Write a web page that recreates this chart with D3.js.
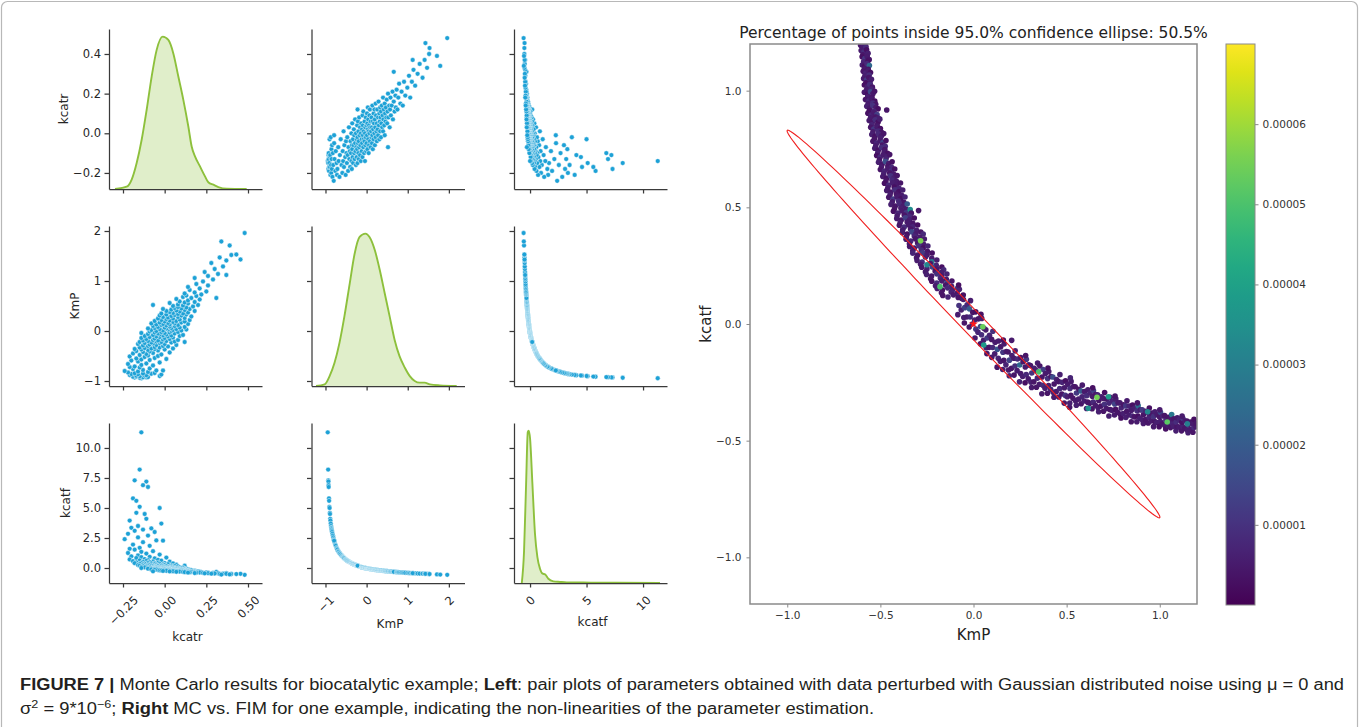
<!DOCTYPE html>
<html>
<head>
<meta charset="utf-8">
<script src="https://cdn.jsdelivr.net/npm/d3@7"></script>
<style>
  body { margin: 0; background: #fff; }
  svg { display: block; font-family: "DejaVu Sans", sans-serif; }
</style>
</head>
<body>
<svg id="fig" width="1360" height="727"></svg>
<script>
// ---------------- data ----------------
var varNames = ["kcatr", "KmP", "kcatf"];

// Monte Carlo samples: [kcatr, KmP, kcatf]
var samples = [
  [-0.14,-0.945,11.3],[-0.15,-0.935,8.2],[-0.18,-0.93,7.3],[-0.11,-0.928,7.2],[-0.13,-0.925,6.9],[-0.10,-0.922,6.75],
  [-0.19,-0.915,5.8],[-0.17,-0.912,5.6],[-0.15,-0.905,5.1],[-0.03,-0.90,5.0],[-0.17,-0.893,4.6],[-0.12,-0.89,4.5],
  [-0.11,-0.885,4.1],[-0.21,-0.88,3.95],[-0.02,-0.872,3.7],[-0.16,-0.865,3.5],[-0.20,-0.86,3.35],[-0.08,-0.855,3.3],
  [-0.13,-0.85,3.2],[-0.18,-0.845,3.1],[-0.06,-0.84,3.0],
  [-0.22,-0.83,2.85],[-0.10,-0.82,2.7],[-0.16,-0.81,2.55],[-0.24,-0.80,2.4],[-0.05,-0.79,2.3],[-0.13,-0.78,2.15],
  [-0.19,-0.76,1.95],[-0.09,-0.75,1.85],[-0.15,-0.73,1.68],[-0.21,-0.72,1.6],[-0.01,-0.79,2.28],
  [-0.18,-0.71,1.53],[-0.07,-0.69,1.4],[-0.14,-0.68,1.35],[-0.22,-0.66,1.25],[-0.11,-0.65,1.2],[-0.03,-0.63,1.12],[-0.16,-0.61,1.04],
  [-0.20,-0.59,0.97],[-0.09,-0.58,0.93],[-0.14,-0.57,0.9],[0.01,-0.56,0.87],[-0.17,-0.55,0.83],[-0.06,-0.54,0.8],
  [-0.12,-0.52,0.74],[-0.21,-0.51,0.71],[-0.04,-0.50,0.68],[-0.10,-0.49,0.66],
  [-0.15,-0.48,0.63],[-0.02,-0.47,0.61],[-0.11,-0.46,0.59],[-0.19,-0.45,0.57],[-0.07,-0.44,0.55],[0.03,-0.43,0.53],
  [-0.13,-0.42,0.51],[-0.09,-0.41,0.49],[-0.17,-0.40,0.47],[-0.04,-0.39,0.45],[-0.10,-0.38,0.43],[0.00,-0.37,0.41],
  [-0.14,-0.37,0.41],[-0.06,-0.36,0.40],
  [-0.18,-0.36,0.40],[-0.08,-0.35,0.38],[0.05,-0.35,0.38],[-0.12,-0.34,0.36],[-0.03,-0.33,0.35],[-0.15,-0.33,0.35],
  [-0.06,-0.32,0.33],[0.02,-0.31,0.32],[-0.10,-0.30,0.30],[-0.01,-0.30,0.30],[-0.13,-0.29,0.29],[-0.05,-0.28,0.27],
  [0.07,-0.28,0.27],[-0.09,-0.27,0.26],[-0.16,-0.26,0.24],[0.00,-0.26,0.24],[-0.07,-0.25,0.23],[-0.03,-0.24,0.21],
  [-0.12,-0.24,0.21],[0.04,-0.23,0.20],[-0.08,-0.23,0.20],[-0.02,-0.22,0.19],[-0.15,-0.22,0.19],[0.06,-0.21,0.17],
  [-0.05,-0.21,0.17],[-0.10,-0.20,0.16],[0.01,-0.20,0.16],[-0.13,-0.19,0.15],[-0.04,-0.19,0.15],[0.08,-0.18,0.14],
  [-0.07,-0.18,0.14],[-0.01,-0.17,0.13],[-0.11,-0.16,0.11],[0.03,-0.16,0.11],[-0.06,-0.15,0.10],[0.00,-0.14,0.09],
  [-0.14,-0.14,0.09],[0.05,-0.13,0.08],[-0.03,-0.12,0.07],[0.12,-0.22,0.19],
  [-0.09,-0.12,0.07],[0.02,-0.11,0.06],[-0.05,-0.11,0.06],[0.09,-0.10,0.05],[-0.12,-0.10,0.05],[-0.01,-0.09,0.04],
  [0.04,-0.09,0.04],[-0.07,-0.08,0.03],[0.11,-0.08,0.03],[-0.03,-0.07,0.02],[0.01,-0.07,0.02],[-0.10,-0.06,0.02],
  [0.06,-0.05,0.01],[-0.04,-0.05,0.01],[0.00,-0.04,0.0],[-0.14,-0.04,0.0],[0.03,-0.03,-0.01],[-0.06,-0.03,-0.01],
  [0.08,-0.02,-0.02],[-0.02,-0.02,-0.02],[-0.09,-0.01,-0.02],[0.04,0.0,-0.03],
  [-0.05,0.00,-0.03],[0.10,0.01,-0.036],[-0.01,0.01,-0.036],[0.05,0.02,-0.042],[-0.08,0.02,-0.042],[0.02,0.03,-0.048],
  [0.13,0.03,-0.048],[-0.03,0.04,-0.054],[0.07,0.04,-0.054],[-0.10,0.05,-0.06],[0.01,0.05,-0.06],[0.04,0.06,-0.066],
  [-0.06,0.06,-0.066],[0.09,0.07,-0.072],[0.00,0.07,-0.072],[-0.04,0.08,-0.078],[0.12,0.08,-0.078],[0.03,0.09,-0.084],
  [-0.07,0.10,-0.09],[0.06,0.10,-0.09],[0.01,0.11,-0.096],[-0.02,0.12,-0.10],
  [0.08,0.12,-0.10],[-0.05,0.13,-0.108],[0.03,0.13,-0.108],[0.14,0.14,-0.114],[-0.01,0.14,-0.114],[0.06,0.15,-0.12],
  [-0.08,0.15,-0.12],[0.02,0.16,-0.125],[0.10,0.17,-0.13],[-0.03,0.17,-0.13],[0.05,0.18,-0.135],[0.00,0.19,-0.14],
  [0.12,0.19,-0.14],[-0.06,0.20,-0.145],[0.07,0.20,-0.145],[0.03,0.21,-0.15],[-0.02,0.22,-0.154],[0.15,0.22,-0.154],
  [0.09,0.23,-0.16],[0.01,0.24,-0.162],
  [0.05,0.25,-0.167],[-0.04,0.25,-0.167],[0.12,0.26,-0.172],[0.02,0.27,-0.176],[0.08,0.28,-0.18],[-0.01,0.28,-0.18],
  [0.16,0.29,-0.185],[0.04,0.30,-0.19],[0.10,0.31,-0.194],[-0.03,0.31,-0.194],[0.06,0.32,-0.198],[0.13,0.33,-0.202],
  [0.01,0.33,-0.202],[0.08,0.34,-0.206],[-0.02,0.35,-0.21],[0.11,0.35,-0.21],[0.05,0.36,-0.214],
  [0.14,0.37,-0.218],[0.03,0.38,-0.222],[0.09,0.39,-0.226],[0.18,0.40,-0.23],[0.01,0.40,-0.23],[0.07,0.41,-0.234],
  [0.12,0.42,-0.238],[0.04,0.43,-0.242],[0.15,0.44,-0.246],[-0.01,0.44,-0.246],[0.10,0.45,-0.25],[0.06,0.46,-0.254],
  [0.13,0.47,-0.258],[0.08,0.48,-0.262],[-0.07,0.52,-0.276],
  [0.17,0.49,-0.266],[0.05,0.50,-0.27],[0.11,0.51,-0.273],[0.20,0.52,-0.276],[0.08,0.53,-0.28],[0.14,0.55,-0.285],
  [0.03,0.56,-0.288],[0.12,0.57,-0.29],[0.18,0.58,-0.294],[0.09,0.59,-0.297],
  [0.14,0.61,-0.303],[0.21,0.63,-0.31],[0.07,0.64,-0.312],[0.16,0.66,-0.318],[0.11,0.68,-0.324],[0.19,0.70,-0.33],
  [0.13,0.71,-0.333],[0.31,0.66,-0.318],
  [0.22,0.73,-0.339],[0.12,0.75,-0.345],[0.18,0.77,-0.351],[0.25,0.79,-0.357],[0.15,0.82,-0.366],
  [0.21,0.85,-0.375],[0.14,0.88,-0.384],[0.26,0.91,-0.392],[0.19,0.94,-0.398],
  [0.23,0.99,-0.408],[0.29,1.03,-0.416],[0.18,1.06,-0.422],
  [0.26,1.10,-0.43],[0.32,1.14,-0.438],[0.24,1.18,-0.446],[0.37,1.12,-0.434],
  [0.30,1.24,-0.458],[0.35,1.29,-0.468],[0.28,1.36,-0.476],[0.37,1.41,-0.481],
  [0.33,1.47,-0.494],[0.40,1.52,-0.502],
  [0.48,1.96,-0.57],[0.455,1.43,-0.485],[0.43,1.53,-0.503],[0.39,1.71,-0.533],[0.34,1.79,-0.55]
];

// kernel density curves on the diagonal (relative height)
var kcatrDensX = [-0.298,-0.224,-0.198,-0.168,-0.138,-0.108,-0.078,-0.048,-0.012,0.022,0.052,0.082,0.112,0.142,0.162,0.182,0.212,0.242,0.262,0.292,0.322,0.372,0.492];
var kcatrDensY = [0,0.017,0.061,0.17,0.323,0.52,0.738,0.913,1.0,0.978,0.89,0.738,0.585,0.41,0.279,0.214,0.148,0.083,0.044,0.028,0.013,0.002,0];
var kmpDensX = [-1.23,-1.02,-0.90,-0.78,-0.66,-0.54,-0.41,-0.29,-0.17,-0.03,0.07,0.20,0.32,0.44,0.56,0.68,0.80,0.93,1.05,1.17,1.29,1.41,1.54,1.78,2.19];
var kmpDensY = [0,0.011,0.065,0.152,0.283,0.457,0.674,0.87,0.978,1.0,0.978,0.891,0.761,0.609,0.457,0.304,0.196,0.12,0.065,0.033,0.022,0.022,0.011,0.004,0];
var kcatfDensX = [-0.73,-0.53,-0.35,-0.2,-0.12,0.0,0.21,0.44,0.65,0.88,1.12,1.33,1.62,2.06,2.65,3.24,4.7,7.6,11.5];
var kcatfDensY = [0,0.21,0.65,0.99,1.0,0.95,0.65,0.32,0.17,0.094,0.061,0.057,0.028,0.011,0.007,0.004,0.003,0.002,0];

var pairXDomains = [[-0.334, 0.584], [-1.34, 2.38], [-1.42, 12.12]];
var pairYDomains = [[-0.281, 0.526], [-1.1, 2.1], [-1.25, 12.08]];
var pairXTicks = [[-0.25, 0, 0.25, 0.5], [-1, 0, 1, 2], [0, 5, 10]];
var pairYTicks = [[-0.2, 0, 0.2, 0.4], [-1, 0, 1, 2], [0, 2.5, 5, 7.5, 10]];
var pairXFormat = [".2f", "d", "d"];
var pairYFormat = [".1f", "d", ".1f"];

// MC vs FIM panel: [KmP, kcatf, density (x1e-5)]
var band = [
  [-0.606,1.195,0.4],[-0.592,1.20,0.7],[-0.578,1.19,0.3],[-0.596,1.183,0.5],[-0.579,1.186,0.8],
  [-0.603,1.172,0.5],[-0.589,1.165,0.9],[-0.574,1.175,0.3],[-0.566,1.16,0.6],[-0.594,1.154,0.4],[-0.572,1.152,0.6],
  [-0.598,1.145,0.3],[-0.583,1.138,1.1],[-0.571,1.146,0.5],[-0.560,1.133,0.4],[-0.590,1.124,0.7],[-0.567,1.127,0.3],
  [-0.597,1.11,0.6],[-0.585,1.104,0.3],[-0.572,1.115,0.8],[-0.559,1.108,2.4],[-0.586,1.094,0.5],[-0.565,1.092,0.4],
  [-0.592,1.083,0.4],[-0.578,1.075,0.7],[-0.565,1.086,0.5],[-0.553,1.078,0.3],[-0.583,1.064,0.6],[-0.560,1.067,0.9],
  [-0.590,1.052,0.5],[-0.574,1.046,1.2],[-0.562,1.056,0.4],[-0.548,1.049,0.6],[-0.578,1.034,0.3],[-0.555,1.032,0.5],
  [-0.586,1.024,0.3],[-0.570,1.017,0.6],[-0.557,1.026,0.9],[-0.543,1.015,0.4],[-0.574,1.004,0.5],[-0.550,1.007,0.7],
  [-0.586,0.993,0.5],[-0.569,0.986,0.3],[-0.553,0.995,1.6],[-0.540,0.987,0.5],[-0.531,0.997,0.4],[-0.568,0.974,0.6],[-0.545,0.972,0.4],
  [-0.580,0.962,0.4],[-0.562,0.957,0.8],[-0.548,0.965,0.5],[-0.530,0.955,0.3],[-0.566,0.944,0.5],[-0.540,0.947,0.9],[-0.525,0.942,0.4],
  [-0.573,0.933,0.6],[-0.556,0.926,0.4],[-0.541,0.936,1.0],[-0.524,0.928,0.5],[-0.512,0.922,0.3],[-0.466,0.917,0.4],[-0.560,0.914,0.3],[-0.534,0.912,0.7],
  [-0.567,0.903,0.3],[-0.550,0.896,0.7],[-0.535,0.905,0.5],[-0.518,0.898,1.3],[-0.553,0.884,0.5],[-0.526,0.887,0.4],[-0.512,0.883,0.6],
  [-0.560,0.872,0.5],[-0.543,0.866,0.4],[-0.527,0.875,0.9],[-0.512,0.866,0.3],[-0.503,0.878,0.6],[-0.546,0.854,0.7],[-0.518,0.852,0.4],
  [-0.552,0.843,0.4],[-0.535,0.836,1.1],[-0.518,0.845,0.5],[-0.500,0.838,0.3],[-0.540,0.824,0.5],[-0.510,0.827,0.8],[-0.494,0.822,0.4],
  [-0.546,0.812,0.6],[-0.528,0.806,0.3],[-0.511,0.815,0.8],[-0.494,0.807,0.5],[-0.482,0.816,0.4],[-0.532,0.794,0.4],[-0.500,0.797,0.6],
  [-0.540,0.783,0.4],[-0.520,0.776,0.7],[-0.502,0.785,0.5],[-0.486,0.778,1.4],[-0.470,0.786,0.3],[-0.525,0.764,0.5],[-0.490,0.767,0.4],[-0.474,0.762,0.8],
  [-0.530,0.753,0.5],[-0.511,0.746,0.3],[-0.494,0.756,0.9],[-0.476,0.748,0.4],[-0.514,0.734,0.6],[-0.480,0.737,0.5],[-0.462,0.732,0.3],
  [-0.520,0.722,0.3],[-0.501,0.716,0.8],[-0.484,0.725,0.5],[-0.466,0.718,0.6],[-0.450,0.726,0.4],[-0.505,0.704,0.4],[-0.470,0.707,0.7],
  [-0.510,0.693,0.6],[-0.490,0.686,0.4],[-0.473,0.696,1.7],[-0.455,0.688,0.5],[-0.437,0.695,0.3],[-0.494,0.674,0.5],[-0.460,0.677,0.4],[-0.440,0.672,0.8],
  [-0.500,0.662,0.4],[-0.479,0.656,0.7],[-0.460,0.665,0.5],[-0.441,0.657,0.9],[-0.423,0.664,0.3],[-0.482,0.644,0.6],[-0.450,0.647,0.4],[-0.428,0.642,0.5],
  [-0.487,0.632,0.5],[-0.466,0.626,0.3],[-0.446,0.635,1.0],[-0.426,0.627,0.6],[-0.410,0.636,0.4],[-0.470,0.614,0.4],[-0.438,0.617,0.8],[-0.414,0.612,0.5],
  [-0.478,0.603,0.3],[-0.455,0.596,0.8],[-0.434,0.605,0.6],[-0.413,0.597,0.5],[-0.392,0.604,0.4],[-0.460,0.584,0.5],[-0.426,0.587,0.3],[-0.400,0.582,0.7],
  [-0.466,0.572,0.5],[-0.444,0.566,0.4],[-0.422,0.575,0.9],[-0.401,0.567,0.3],[-0.380,0.574,0.6],[-0.448,0.554,0.6],[-0.414,0.557,0.4],[-0.386,0.552,0.5],
  [-0.455,0.543,0.4],[-0.432,0.536,1.2],[-0.411,0.545,0.5],[-0.390,0.537,0.3],[-0.368,0.544,0.7],[-0.436,0.524,0.5],[-0.402,0.527,0.8],[-0.374,0.522,0.4],
  [-0.443,0.512,0.6],[-0.420,0.506,0.4],[-0.398,0.515,0.8],[-0.376,0.507,0.5],[-0.356,0.514,1.9],[-0.295,0.486,0.4],[-0.424,0.494,0.4],[-0.390,0.497,0.6],[-0.362,0.492,0.5],
  [-0.430,0.483,0.3],[-0.405,0.476,0.7],[-0.383,0.485,0.5],[-0.360,0.478,1.1],[-0.340,0.490,3.4],[-0.334,0.475,0.4],[-0.410,0.464,0.5],[-0.372,0.467,0.4],[-0.344,0.462,0.8],
  [-0.412,0.452,0.5],[-0.388,0.446,0.4],[-0.366,0.455,1.3],[-0.343,0.447,0.6],[-0.318,0.454,0.3],[-0.394,0.434,0.6],[-0.356,0.437,0.5],[-0.326,0.432,0.4],
  [-0.398,0.423,0.4],[-0.372,0.416,0.9],[-0.349,0.425,0.5],[-0.326,0.417,0.7],[-0.300,0.424,0.3],[-0.380,0.404,0.5],[-0.338,0.407,0.4],[-0.306,0.402,0.6],
  [-0.382,0.392,0.6],[-0.356,0.386,0.3],[-0.332,0.395,1.5],[-0.309,0.387,0.5],[-0.283,0.394,0.4],[-0.270,0.386,0.8],[-0.360,0.374,0.4],[-0.318,0.377,0.7],[-0.288,0.372,0.5],
  [-0.362,0.363,0.5],[-0.337,0.356,0.8],[-0.312,0.365,0.4],[-0.289,0.357,2.2],[-0.264,0.364,0.5],[-0.344,0.344,0.6],[-0.300,0.347,0.4],[-0.268,0.342,0.5],
  [-0.343,0.332,0.4],[-0.318,0.326,0.6],[-0.293,0.335,1.0],[-0.270,0.327,0.3],[-0.245,0.334,0.7],[-0.326,0.314,0.5],[-0.280,0.317,0.8],[-0.248,0.312,0.4],
  [-0.326,0.303,0.7],[-0.300,0.296,0.4],[-0.273,0.305,1.2],[-0.249,0.297,0.5],[-0.222,0.304,0.3],[-0.306,0.284,0.4],[-0.258,0.287,0.6],[-0.224,0.282,0.5],
  [-0.303,0.272,0.5],[-0.276,0.266,0.9],[-0.224,0.267,2.8],[-0.197,0.274,0.6],[-0.284,0.256,0.5],[-0.232,0.259,0.4],[-0.200,0.252,0.7],
  [-0.278,0.243,0.4],[-0.250,0.236,0.6],[-0.222,0.245,1.4],[-0.196,0.237,0.5],[-0.170,0.244,0.3],[-0.160,0.232,0.8],[-0.258,0.224,0.5],[-0.206,0.227,0.4],[-0.172,0.222,0.6],
  [-0.252,0.212,0.6],[-0.225,0.206,0.4],[-0.197,0.215,1.0],[-0.170,0.207,0.5],[-0.143,0.214,0.7],[-0.230,0.194,0.4],[-0.178,0.197,0.8],[-0.146,0.192,0.5],
  [-0.224,0.183,0.3],[-0.197,0.176,0.9],[-0.170,0.185,0.5],[-0.142,0.177,1.6],[-0.116,0.184,0.4],[-0.204,0.164,0.5],[-0.150,0.167,0.4],[-0.118,0.162,0.6],
  [-0.195,0.152,0.5],[-0.167,0.146,0.3],[-0.139,0.155,0.8],[-0.112,0.147,0.6],[-0.085,0.154,1.1],[-0.172,0.134,0.4],[-0.120,0.137,0.7],[-0.088,0.132,0.5],
  [-0.165,0.122,0.4],[-0.137,0.116,0.7],[-0.108,0.125,0.5],[-0.081,0.117,1.2],[-0.055,0.124,0.3],
  [-0.084,0.040,0.5],[-0.078,0.079,1.0],[-0.082,0.114,0.4],[-0.076,0.149,0.7],[-0.080,0.167,0.3],[-0.066,0.060,0.6],[-0.064,0.110,0.4],
  [-0.052,0.028,0.6],[-0.047,0.070,1.3],[-0.054,0.105,0.5],[-0.049,0.004,0.4],[-0.036,0.030,0.5],[-0.034,0.082,0.8],
  [-0.023,-0.013,0.4],[-0.018,0.030,0.8],[-0.022,0.065,2.0],[-0.016,0.100,0.5],[-0.006,0.000,0.6],[-0.004,0.050,0.4],
  [0.008,-0.060,0.5],[0.013,-0.022,1.1],[0.006,0.017,0.6],[0.012,0.052,0.3],[0.024,-0.035,0.7],[0.026,0.022,0.4],
  [0.037,-0.085,0.4],[0.043,-0.046,0.9],[0.038,-0.011,1.5],[0.044,0.024,0.5],[0.040,0.042,0.3],[0.054,-0.070,0.5],[0.056,-0.018,0.6],
  [0.068,-0.102,0.6],[0.073,-0.060,1.2],[0.066,-0.025,0.5],[0.072,-0.127,0.4],[0.084,-0.100,0.4],[0.086,-0.048,0.7],
  [0.098,-0.143,0.5],[0.103,-0.101,0.8],[0.097,-0.066,0.4],[0.104,-0.031,1.0],[0.114,-0.128,0.6],[0.116,-0.078,0.5],
  [0.127,-0.185,0.4],[0.133,-0.147,0.7],[0.128,-0.108,1.8],[0.134,-0.073,0.5],[0.144,-0.160,0.5],[0.146,-0.098,0.4],
  [0.157,-0.195,0.6],[0.163,-0.156,0.4],[0.158,-0.121,1.1],[0.164,-0.086,0.5],[0.160,-0.069,0.3],[0.174,-0.175,0.7],[0.176,-0.118,0.5],
  [0.188,-0.197,0.5],[0.193,-0.155,1.4],[0.186,-0.120,0.4],[0.192,-0.222,0.7],[0.204,-0.190,0.4],[0.205,-0.070,0.5],[0.206,-0.135,0.6],
  [0.218,-0.219,0.4],[0.223,-0.180,0.9],[0.217,-0.147,0.5],[0.224,-0.115,0.6],[0.234,-0.200,0.5],[0.236,-0.150,0.8],
  [0.247,-0.248,0.7],[0.253,-0.212,0.5],[0.248,-0.176,2.3],[0.254,-0.144,0.4],[0.264,-0.225,0.6],[0.266,-0.162,0.4],
  [0.277,-0.252,0.3],[0.283,-0.217,0.8],[0.278,-0.184,0.5],[0.284,-0.151,1.2],[0.280,-0.135,0.4],[0.294,-0.235,0.5],[0.296,-0.175,0.7],
  [0.308,-0.249,0.6],[0.313,-0.210,1.0],[0.306,-0.178,0.4],[0.312,-0.272,0.5],[0.324,-0.248,0.4],[0.326,-0.190,0.6],
  [0.338,-0.271,0.4],[0.343,-0.232,0.7],[0.337,-0.199,0.6],[0.344,-0.167,0.5],[0.354,-0.258,0.5],[0.356,-0.180,0.4],
  [0.367,-0.299,0.5],[0.373,-0.263,0.9],[0.368,-0.227,0.4],[0.374,-0.195,1.3],[0.384,-0.275,0.6],[0.386,-0.212,0.5],
  [0.397,-0.297,0.4],[0.403,-0.264,0.6],[0.398,-0.234,1.0],[0.404,-0.204,0.5],[0.400,-0.189,0.3],[0.414,-0.280,0.7],[0.416,-0.225,0.4],
  [0.428,-0.293,0.7],[0.433,-0.257,0.4],[0.426,-0.227,1.6],[0.432,-0.314,0.5],[0.444,-0.290,0.5],[0.446,-0.238,0.6],
  [0.458,-0.313,0.5],[0.463,-0.277,0.8],[0.457,-0.247,0.4],[0.464,-0.217,0.6],[0.474,-0.300,0.4],[0.476,-0.250,0.7],
  [0.487,-0.339,0.4],[0.493,-0.306,1.1],[0.488,-0.273,0.5],[0.494,-0.243,0.3],[0.516,-0.357,0.4],[0.504,-0.312,0.6],[0.506,-0.258,0.5],
  [0.517,-0.339,0.6],[0.523,-0.306,0.4],[0.518,-0.276,0.9],[0.524,-0.246,0.5],[0.520,-0.231,0.7],[0.534,-0.318,0.4],[0.536,-0.268,0.6],
  [0.548,-0.329,0.5],[0.553,-0.296,1.2],[0.546,-0.269,0.4],[0.552,-0.348,0.6],[0.564,-0.322,0.5],[0.566,-0.280,0.4],
  [0.578,-0.342,0.4],[0.583,-0.312,0.7],[0.577,-0.287,2.1],[0.584,-0.262,0.5],[0.594,-0.330,0.6],[0.596,-0.290,0.5],
  [0.607,-0.362,0.6],[0.613,-0.335,0.4],[0.608,-0.307,0.9],[0.614,-0.282,0.5],[0.624,-0.340,0.4],[0.626,-0.296,0.7],
  [0.637,-0.363,0.4],[0.643,-0.335,0.8],[0.638,-0.310,0.5],[0.644,-0.285,1.3],[0.640,-0.273,0.3],[0.654,-0.348,0.5],[0.656,-0.302,0.4],
  [0.668,-0.358,0.5],[0.673,-0.328,0.4],[0.666,-0.303,0.7],[0.672,-0.376,0.6],[0.684,-0.352,0.4],[0.686,-0.312,0.6],
  [0.698,-0.374,0.4],[0.703,-0.344,1.0],[0.697,-0.319,0.5],[0.704,-0.294,0.3],[0.714,-0.362,0.5],[0.716,-0.322,0.4],
  [0.727,-0.394,0.6],[0.733,-0.367,0.4],[0.728,-0.339,0.8],[0.734,-0.314,0.5],[0.744,-0.370,0.5],[0.746,-0.330,0.7],
  [0.757,-0.390,0.5],[0.763,-0.366,0.3],[0.758,-0.343,1.4],[0.764,-0.321,0.6],[0.760,-0.309,0.4],[0.774,-0.378,0.4],[0.776,-0.338,0.5],
  [0.788,-0.387,0.4],[0.793,-0.360,0.7],[0.786,-0.338,0.5],[0.792,-0.403,0.3],[0.804,-0.384,0.6],[0.806,-0.346,0.4],
  [0.818,-0.401,0.6],[0.823,-0.374,0.4],[0.817,-0.351,1.1],[0.824,-0.329,0.5],[0.834,-0.390,0.5],[0.836,-0.352,0.7],
  [0.847,-0.419,0.4],[0.853,-0.394,0.8],[0.848,-0.370,0.5],[0.854,-0.347,0.3],[0.864,-0.398,0.4],[0.866,-0.360,0.6],
  [0.877,-0.419,0.5],[0.883,-0.395,0.3],[0.878,-0.372,0.9],[0.884,-0.350,2.5],[0.880,-0.338,0.4],[0.894,-0.404,0.6],[0.896,-0.368,0.5],
  [0.908,-0.412,0.6],[0.913,-0.388,0.4],[0.906,-0.368,1.2],[0.912,-0.426,0.5],[0.924,-0.410,0.4],[0.926,-0.374,0.7],
  [0.938,-0.424,0.4],[0.943,-0.400,0.7],[0.937,-0.380,0.5],[0.944,-0.360,0.3],[0.954,-0.416,0.5],[0.956,-0.382,0.4],
  [0.967,-0.440,0.5],[0.973,-0.418,0.4],[0.968,-0.396,1.0],[0.974,-0.376,0.6],[0.984,-0.422,0.6],[0.986,-0.388,0.5],
  [0.997,-0.440,0.3],[1.003,-0.418,0.6],[0.998,-0.398,0.4],[1.004,-0.378,1.5],[1.000,-0.368,0.5],[1.014,-0.428,0.4],[1.016,-0.394,0.7],
  [1.028,-0.436,0.5],[1.033,-0.412,0.8],[1.026,-0.392,0.4],[1.032,-0.450,0.3],[1.044,-0.434,0.5],[1.046,-0.400,0.4],
  [1.058,-0.444,0.4],[1.063,-0.423,0.7],[1.057,-0.406,0.5],[1.064,-0.388,2.8],[1.074,-0.438,0.6],[1.076,-0.406,0.4],
  [1.087,-0.458,0.6],[1.093,-0.439,0.4],[1.088,-0.420,0.9],[1.094,-0.402,0.5],[1.104,-0.442,0.5],[1.106,-0.410,0.7],
  [1.117,-0.458,0.4],[1.123,-0.439,0.6],[1.118,-0.421,0.3],[1.124,-0.404,1.1],[1.120,-0.395,0.5],[1.134,-0.448,0.4],[1.136,-0.416,0.5],
  [1.148,-0.454,0.5],[1.153,-0.433,0.7],[1.146,-0.416,0.4],[1.152,-0.466,0.6],[1.164,-0.452,0.5],[1.166,-0.420,0.4],
  [1.178,-0.464,0.4],[1.183,-0.443,0.8],[1.177,-0.426,0.5],[1.184,-0.408,0.3],[1.195,-0.440,0.5],[1.196,-0.425,0.4],
  // lighter (higher density) points, drawn last
  [-0.250,0.254,3.2],[-0.284,0.357,5.6],[-0.180,0.160,5.0],[0.050,-0.012,5.4],[0.055,-0.090,3.8],[0.350,-0.205,5.0],
  [0.616,-0.361,3.6],[0.663,-0.314,5.5],[0.725,-0.312,3.9],[0.935,-0.376,3.3],[1.040,-0.420,5.2],[1.148,-0.428,3.0]
];

var mcDomain = [-1.2, 1.2];
var mcTicks = [-1.0, -0.5, 0.0, 0.5, 1.0];
var ellipseCenter = [0, 0];
var ellipseMajor = [1.0, -0.83];
var ellipseMinor = [0.042, 0.033];
var cbDomain = [0, 7];
var cbTicks = [1, 2, 3, 4, 5, 6];
var cbTickLabels = ["0.00001", "0.00002", "0.00003", "0.00004", "0.00005", "0.00006"];
var mcTitle = "Percentage of points inside 95.0% confidence ellipse: 50.5%";

// ---------------- drawing ----------------
var svg = d3.select("#fig");
svg.append("rect").attr("width", 1360).attr("height", 727).attr("fill", "#fff");

// frame round the figure
svg.append("rect")
  .attr("x", 1.5).attr("y", 1.5).attr("width", 1356).attr("height", 780).attr("rx", 6)
  .attr("fill", "none").attr("stroke", "#b8b8b8").attr("stroke-width", 1.2);

var spine = "#3a3a3a";
var tickText = "#262626";
var pointBlue = "#1da1d6";
var kdeGreen = "#8dc03c";

var pw = 153, ph = 160;
var densities = [[kcatrDensX, kcatrDensY], [kmpDensX, kmpDensY], [kcatfDensX, kcatfDensY]];

function styleAxis(sel, col) {
  sel.select(".domain").attr("stroke", col).attr("stroke-width", 1.25);
  sel.selectAll(".tick line").attr("stroke", col).attr("stroke-width", 1.25);
  sel.selectAll(".tick text").attr("fill", tickText).style("font-family", "DejaVu Sans");
}

for (var i = 0; i < 3; i++) {
  for (var j = 0; j < 3; j++) {
    var x0 = 109 + j * 202.5, y0 = 29 + i * 197;
    var g = svg.append("g").attr("transform", `translate(${x0},${y0})`);
    var xs = d3.scaleLinear().domain(pairXDomains[j]).range([0, pw]);
    var ys = d3.scaleLinear().domain(pairYDomains[i]).range([ph, 0]);

    if (i === j) {
      var dxs = densities[i][0], dys = densities[i][1];
      var pts = dxs.map((v, k) => [v, dys[k]]);
      var ds = d3.scaleLinear().domain([0, 1.05]).range([ph, 0]);
      g.append("path").datum(pts)
        .attr("d", d3.area().x(d => xs(d[0])).y0(ph).y1(d => ds(d[1])).curve(d3.curveMonotoneX))
        .attr("fill", kdeGreen).attr("fill-opacity", 0.27);
      g.append("path").datum(pts)
        .attr("d", d3.line().x(d => xs(d[0])).y(d => ds(d[1])).curve(d3.curveMonotoneX))
        .attr("fill", "none").attr("stroke", kdeGreen).attr("stroke-width", 1.9);
    } else {
      g.selectAll("circle").data(samples).enter().append("circle")
        .attr("cx", d => xs(d[j])).attr("cy", d => ys(d[i]))
        .attr("r", 2.4)
        .attr("fill", pointBlue).attr("stroke", "#fff").attr("stroke-width", 0.45);
    }

    var xa = g.append("g").attr("transform", `translate(0,${ph})`)
      .call(d3.axisBottom(xs).tickValues(pairXTicks[j]).tickSize(4.5).tickSizeOuter(0).tickPadding(3)
        .tickFormat(i === 2 ? d3.format(pairXFormat[j]) : ""))
      .style("font-size", "11.5px");
    styleAxis(xa, spine);

    var ya = g.append("g")
      .call(d3.axisLeft(ys).tickValues(pairYTicks[i]).tickSize(4.5).tickSizeOuter(0).tickPadding(3.5)
        .tickFormat(j === 0 ? d3.format(pairYFormat[i]) : ""))
      .style("font-size", "11.5px");
    styleAxis(ya, spine);

    if (i === 2) {
      // rotated tick labels, centred under the tick
      xa.selectAll(".tick text").each(function() {
        var t = d3.select(this);
        var w = this.getComputedTextLength();
        var hb = (w + 11.5) * 0.7071;
        t.attr("y", 0).attr("dy", "0.35em").attr("text-anchor", "middle")
          .attr("transform", `translate(0,${11 + hb / 2}) rotate(-45)`);
      });
      var bb = xa.node().getBBox();
      svg.append("text")
        .attr("x", x0 + pw / 2 + 2)
        .attr("y", y0 + ph + bb.y + bb.height + 13)
        .attr("text-anchor", "middle").attr("fill", tickText)
        .style("font-size", "12px").text(varNames[j]);
    }
    if (j === 0) {
      var yb = ya.node().getBBox();
      var lx = x0 + yb.x - 5.5;
      svg.append("text")
        .attr("transform", `translate(${lx},${y0 + ph / 2}) rotate(-90)`)
        .attr("text-anchor", "middle").attr("fill", tickText)
        .style("font-size", "12px").text(varNames[i]);
    }
  }
}

// ---------------- MC vs FIM panel ----------------
var mx = d3.scaleLinear().domain(mcDomain).range([750, 1197]);
var my = d3.scaleLinear().domain(mcDomain).range([604, 44]);
var color = d3.scaleSequential(d3.interpolateViridis).domain(cbDomain);

svg.append("clipPath").attr("id", "mcclip").append("rect")
  .attr("x", 750).attr("y", 44).attr("width", 447).attr("height", 560);

var mc = svg.append("g").attr("clip-path", "url(#mcclip)");
mc.selectAll("circle").data(band).enter().append("circle")
  .attr("cx", d => mx(d[0])).attr("cy", d => my(d[1]))
  .attr("r", 2.8)
  .attr("fill", d => color(d[2]));

var ell = d3.range(0, 361, 2).map(function(a) {
  var t = a * Math.PI / 180;
  return [ellipseCenter[0] + ellipseMajor[0] * Math.cos(t) + ellipseMinor[0] * Math.sin(t),
          ellipseCenter[1] + ellipseMajor[1] * Math.cos(t) + ellipseMinor[1] * Math.sin(t)];
});
mc.append("path").datum(ell)
  .attr("d", d3.line().x(d => mx(d[0])).y(d => my(d[1])))
  .attr("fill", "none").attr("stroke", "#f01e1e").attr("stroke-width", 1.1);
mc.append("path")
  .attr("transform", `translate(${mx(ellipseCenter[0])},${my(ellipseCenter[1])})`)
  .attr("d", d3.symbol(d3.symbolStar, 26)())
  .attr("fill", "#ff1a1a");

var frameGray = "#8a8a8a";
svg.append("rect").attr("x", 750).attr("y", 44).attr("width", 447).attr("height", 560)
  .attr("fill", "none").attr("stroke", frameGray).attr("stroke-width", 1.5);

var mxa = svg.append("g").attr("transform", "translate(0,604)")
  .call(d3.axisBottom(mx).tickValues(mcTicks).tickFormat(d3.format(".1f")).tickSize(3.5).tickPadding(4.5))
  .style("font-size", "10.5px");
mxa.select(".domain").remove();
mxa.selectAll(".tick line").attr("stroke", frameGray);
mxa.selectAll(".tick text").attr("fill", "#333").style("font-family", "DejaVu Sans");

var mya = svg.append("g").attr("transform", "translate(750,0)")
  .call(d3.axisLeft(my).tickValues(mcTicks).tickFormat(d3.format(".1f")).tickSize(3.5).tickPadding(5))
  .style("font-size", "10.5px");
mya.select(".domain").remove();
mya.selectAll(".tick line").attr("stroke", frameGray);
mya.selectAll(".tick text").attr("fill", "#333").style("font-family", "DejaVu Sans");

svg.append("text").attr("x", 973.5).attr("y", 37.5).attr("text-anchor", "middle")
  .attr("fill", "#222").style("font-size", "15.5px").text(mcTitle);
svg.append("text").attr("x", 973.5).attr("y", 640).attr("text-anchor", "middle")
  .attr("fill", "#222").style("font-size", "15px").text("KmP");
svg.append("text").attr("transform", "translate(711,324) rotate(-90)").attr("text-anchor", "middle")
  .attr("fill", "#222").style("font-size", "15px").text("kcatf");

// colour bar
var cbY = d3.scaleLinear().domain(cbDomain).range([605, 44]);
var grad = svg.append("defs").append("linearGradient").attr("id", "vir")
  .attr("x1", 0).attr("y1", 1).attr("x2", 0).attr("y2", 0);
grad.selectAll("stop").data(d3.range(0, 1.0001, 0.05)).enter().append("stop")
  .attr("offset", d => d).attr("stop-color", d => d3.interpolateViridis(d));
svg.append("rect").attr("x", 1226).attr("y", 44).attr("width", 29).attr("height", 561)
  .attr("fill", "url(#vir)").attr("stroke", frameGray).attr("stroke-width", 1);
var cba = svg.append("g").attr("transform", "translate(1255,0)")
  .call(d3.axisRight(cbY).tickValues(cbTicks).tickFormat((d, k) => cbTickLabels[k]).tickSize(3.5).tickPadding(4))
  .style("font-size", "10.5px");
cba.select(".domain").remove();
cba.selectAll(".tick line").attr("stroke", frameGray);
cba.selectAll(".tick text").attr("fill", "#333").style("font-family", "DejaVu Sans");

// ---------------- caption ----------------
var capFont = '"Liberation Sans Narrow", "Liberation Sans", Arial, sans-serif';
var l1 = svg.append("text").attr("x", 20).attr("y", 690).attr("fill", "#231f20")
  .style("font-family", capFont).style("font-size", "16px")
  .attr("textLength", 1324).attr("lengthAdjust", "spacingAndGlyphs");
l1.append("tspan").attr("font-weight", "bold").text("FIGURE 7 |");
l1.append("tspan").text(" Monte Carlo results for biocatalytic example; ");
l1.append("tspan").attr("font-weight", "bold").text("Left");
l1.append("tspan").text(": pair plots of parameters obtained with data perturbed with Gaussian distributed noise using \u03bc = 0 and");

var l2 = svg.append("text").attr("x", 20).attr("y", 714).attr("fill", "#231f20")
  .style("font-family", capFont).style("font-size", "16px")
  .attr("textLength", 854).attr("lengthAdjust", "spacingAndGlyphs");
l2.append("tspan").text("\u03c3");
l2.append("tspan").attr("dy", -6).style("font-size", "11px").text("2");
l2.append("tspan").attr("dy", 6).text(" = 9*10");
l2.append("tspan").attr("dy", -6).style("font-size", "11px").text("\u22126");
l2.append("tspan").attr("dy", 6).text("; ");
l2.append("tspan").attr("font-weight", "bold").text("Right");
l2.append("tspan").text(" MC vs. FIM for one example, indicating the non-linearities of the parameter estimation.");
</script>
</body>
</html>
